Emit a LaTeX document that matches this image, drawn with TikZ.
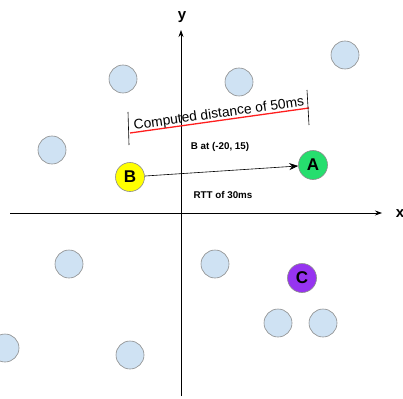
\documentclass[tikz,border=0pt]{standalone}
\usepackage{fontspec}
\setmainfont{Liberation Sans}
\usetikzlibrary{arrows.meta,positioning}
\definecolor{peerBg}{RGB}{207,226,243}
\definecolor{peerInk}{RGB}{140,140,140}
\definecolor{nodeB}{RGB}{255,255,0}
\definecolor{nodeA}{RGB}{38,222,110}
\definecolor{nodeC}{RGB}{150,52,240}
\definecolor{distRed}{RGB}{255,30,30}

\begin{document}
\begin{tikzpicture}[
  x=1pt, y=-1pt,
  peer/.style  ={circle, draw=peerInk, fill=peerBg, line width=.6pt, minimum size=28pt, inner sep=0pt},
  host/.style  ={circle, draw=peerInk, line width=.6pt, minimum size=29pt, inner sep=0pt,
                 font=\fontsize{17}{17}\selectfont\bfseries},
  axis/.style  ={-{Stealth[length=7pt,width=5pt]}, line width=.7pt},
  axlbl/.style ={font=\fontsize{15}{15}\selectfont\bfseries, inner sep=0pt},
  note/.style  ={font=\fontsize{9.8}{9.8}\selectfont\bfseries, inner sep=1pt},
  tick/.style  ={line width=.6pt},
]
\useasboundingbox (0,0) rectangle (403,398);

% ============ AXES ============
\coordinate (yb) at (181,396);
\coordinate (yt) at (181,30);
\coordinate (xl) at (10,213);
\coordinate (xr) at (382,213);
\draw[axis] (yb) -- (yt);
\draw[axis] (xl) -- (xr);
\node[axlbl] (ylbl) at (182,17) {y};
\node[axlbl] (xlbl) at (400,214) {x};

% ============ OTHER PEERS ============
\foreach \px/\py [count=\i] in {123/79, 239/82, 345/55, 52/150, 69/264,
                                215/264, 278/323, 323/323, 5/348, 130/355}
  \node[peer] (p\i) at (\px,\py) {};

% ============ HOSTS ============
\node[host, fill=nodeB] (hB) at (130,177) {B};
\node[host, fill=nodeA] (hA) at (313,165) {A};
\node[host, fill=nodeC] (hC) at (302,278) {C};

\draw[-{Stealth[length=9pt,width=7pt]}, line width=.6pt] (hB) -- (hA);

\node[note] (pos) at (220,147) {B at (-20, 15)};
\node[note] (rtt) at (223,195) {RTT of 30ms};

% ============ COMPUTED DISTANCE ============
\coordinate (d1) at (130,133);
\coordinate (d2) at (309,108);
\draw[distRed, line width=1.3pt] (d1) -- (d2);
\draw[tick] (128,112) -- (129,145);
\draw[tick] (307,90) -- (309,125);
\node[font=\fontsize{13.8}{13.8}\selectfont, rotate=8, inner sep=0pt] (dist)
  at (219,114) {Computed distance of 50ms};

\end{tikzpicture}
\end{document}
